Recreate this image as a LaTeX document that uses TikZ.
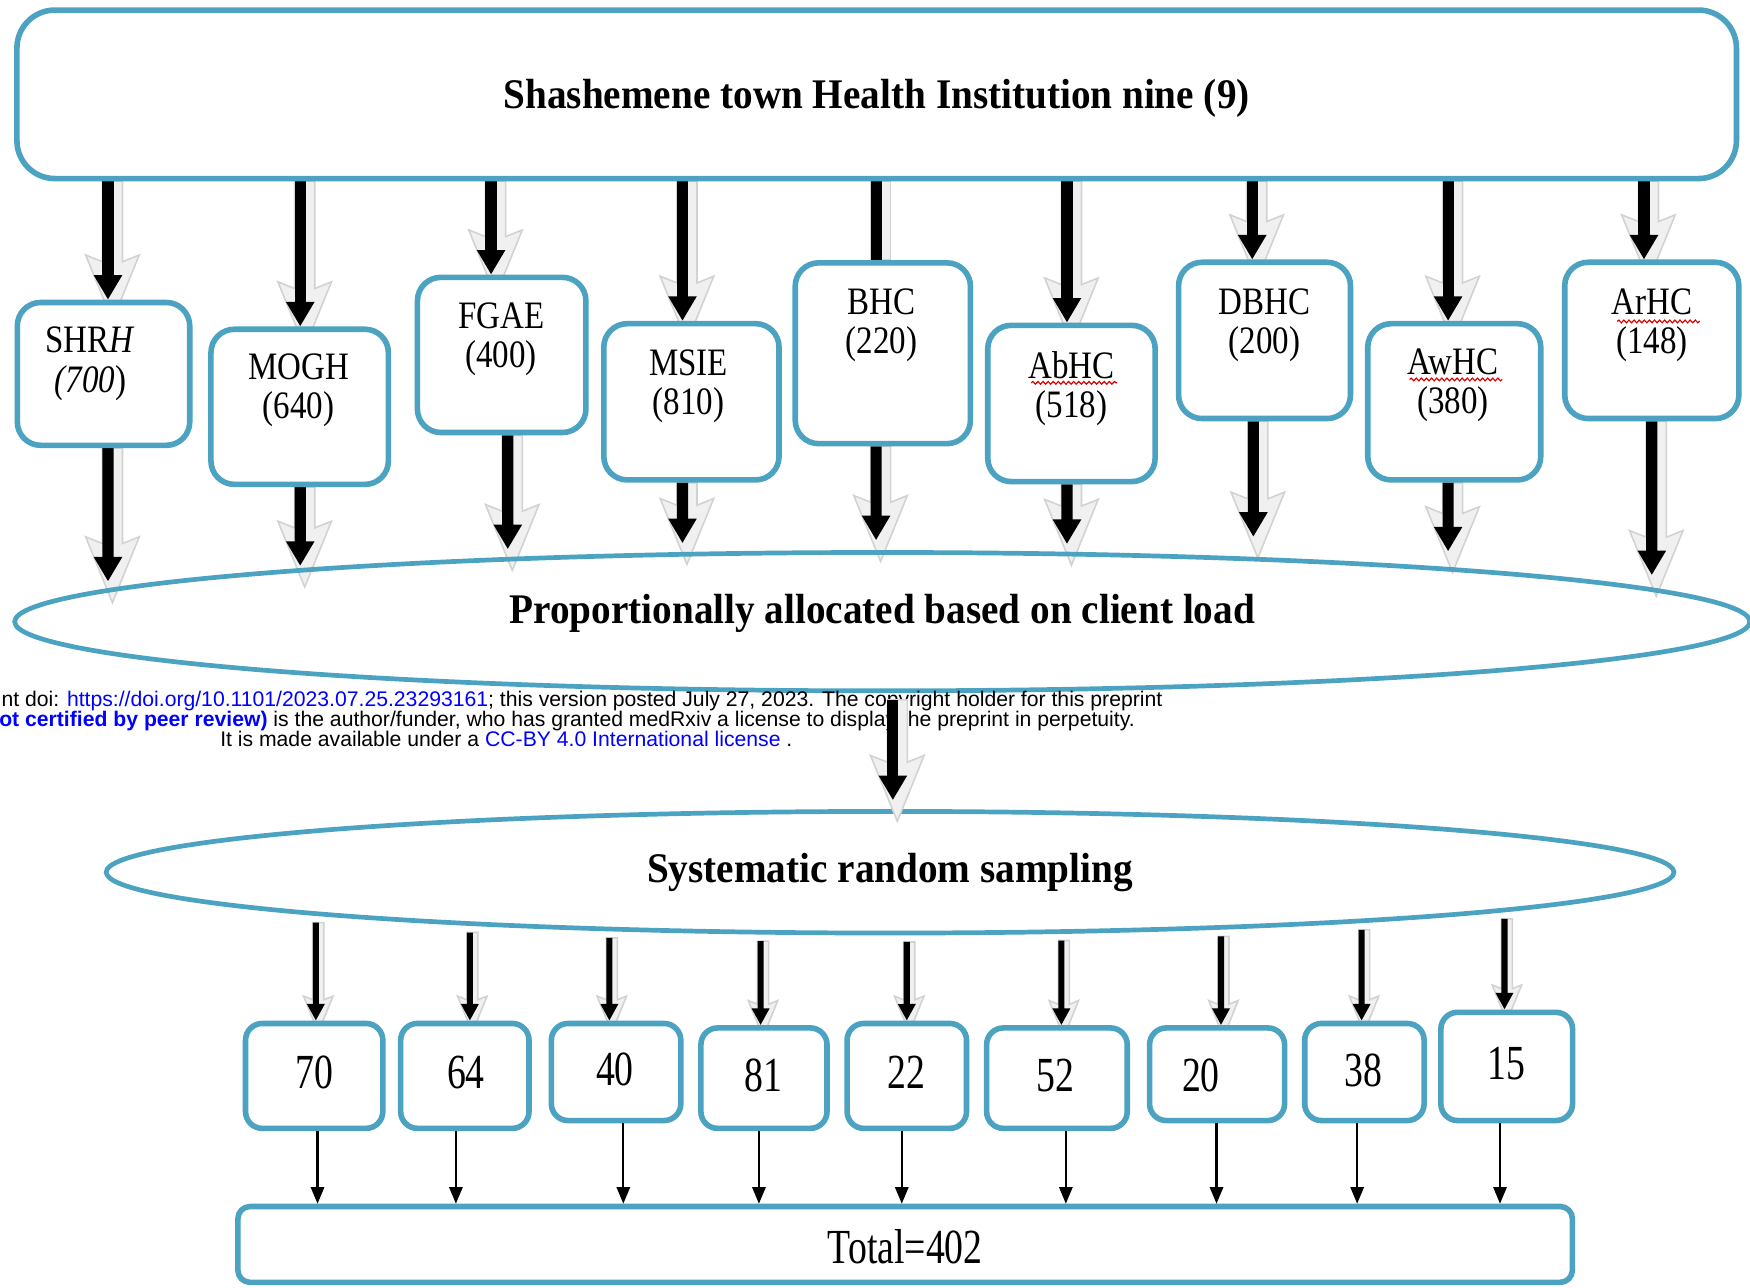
\documentclass[tikz,border=0pt]{standalone}
\usepackage{fontspec}
\setmainfont{Liberation Serif}
\newfontfamily\titlefont[FakeStretch=0.93]{Liberation Serif}
\newfontfamily\lblfont[FakeStretch=0.85]{Liberation Serif}
\newfontfamily\numfont[FakeStretch=0.77]{Liberation Serif}
\newfontfamily\wmfont{Liberation Sans}
\usetikzlibrary{shapes.geometric,arrows.meta,calc,intersections,decorations.pathmorphing}
\definecolor{teal1}{RGB}{75,163,193}
\definecolor{wmblue}{RGB}{0,0,255}
\pgfdeclarelayer{paper}
\pgfdeclarelayer{bg}
\pgfsetlayers{paper,bg,main}
\def\PX{0.56906pt}
% shadowed block arrow: #1 scale, #2 style, #3 start, #4 tip
\newcommand\sharrow[4]{%
  \path[shadowpoly] let \p1=#3, \p2=#4 in
    (\x1-5*#1*\PX,\y1) -- (\x1+13*#1*\PX,\y1) -- (\x1+13*#1*\PX,\y2+34*#1*\PX)
    -- (\x1+28*#1*\PX,\y2+40*#1*\PX) -- (\x1+4*#1*\PX,\y2-19*#1*\PX)
    -- (\x1-20*#1*\PX,\y2+40*#1*\PX) -- (\x1-5*#1*\PX,\y2+34*#1*\PX) -- cycle;
  \draw[#2] #3 -- #4;}
% shadowed line without head
\newcommand\shline[2]{%
  \path[shadowpoly] let \p1=#1, \p2=#2 in
    (\x1-5*\PX,\y1) -- (\x1+13*\PX,\y1) -- (\x1+13*\PX,\y2) -- (\x1-5*\PX,\y2) -- cycle;
  \draw[bigline] #1 -- #2;}
\newcommand\hcbox[8]{%
  \node[hbox, minimum width=#4*0.02cm, minimum height=#5*0.02cm] (#1) at (#2,#3) {};
  \node[lbl] (#1T) at (#6,#7) {#8};}
\newcommand\nbx[8]{%
  \node[nbox, minimum width=#4*0.02cm, minimum height=#5*0.02cm] (#1) at (#2,#3) {};
  \node[num] (#1T) at (#6,#7) {#8};}
\begin{document}
\begin{tikzpicture}[x=0.02cm, y=-0.02cm,
  topbox/.style={draw=teal1, line width=2.85pt, rounded corners=0.68cm, fill=white, inner sep=0pt},
  hbox/.style={draw=teal1, line width=2.85pt, rounded corners=0.42cm, fill=white, inner sep=0pt},
  nbox/.style={draw=teal1, line width=2.85pt, rounded corners=0.3cm, fill=white, inner sep=0pt},
  ell/.style={ellipse, draw=teal1, line width=2.4pt, inner sep=0pt},
  titletext/.style={font=\titlefont\bfseries\fontsize{21.5}{24}\selectfont},
  lbl/.style={font=\lblfont\fontsize{19.8}{20}\selectfont, align=center, inner sep=0pt},
  num/.style={font=\numfont\fontsize{25}{26}\selectfont, inner sep=0pt},
  wm/.style={font=\wmfont\fontsize{10.8}{12}\selectfont, inner sep=0pt, anchor=base west},
  shadowpoly/.style={fill=gray!12, draw=gray!35, line width=0.8pt},
  bigarrow/.style={line width=5.69pt, -{Triangle[width=13.66pt,length=12.52pt]}},
  bigline/.style={line width=5.69pt},
  smallarrow/.style={line width=3.13pt, -{Triangle[width=8.5pt,length=8.5pt]}},
  thinarrow/.style={line width=1.1pt, -{Triangle[width=6.8pt,length=8.5pt]}},
  squig/.style={draw=red!85!black, line width=0.6pt, decorate, decoration={snake, amplitude=0.7pt, segment length=2.6pt}},
]
\useasboundingbox (0,0) rectangle (1568,1154);
\begin{pgfonlayer}{paper}
  \fill[white] (0,0) rectangle (1568,1154);
\end{pgfonlayer}

% top box
\node[topbox, titletext, minimum width=30.82cm, minimum height=3.02cm, text height=15pt, text depth=1pt]
  (top) at (785.5,84.5) {Shashemene town Health Institution nine (9)};

% institution boxes
\hcbox{shrh}{92.75}{335}{154.5}{128}{81}{326}{SHR\textit{H}\\\textit{(700})}
\hcbox{mogh}{268.5}{364.5}{159}{139}{267.5}{350}{MOGH\\(640)}
\hcbox{fgae}{449.5}{318}{151}{139}{449}{304}{FGAE\\(400)}
\hcbox{msie}{619.5}{360}{157}{140}{617}{346}{MSIE\\(810)}
\hcbox{bhc}{791}{316.5}{157}{162}{790}{291.5}{BHC\\(220)}
\hcbox{abhc}{960}{361.5}{150}{140}{960}{348}{AbHC\\(518)}
\hcbox{dbhc}{1133}{305}{154}{140}{1133}{291.5}{DBHC\\(200)}
\hcbox{awhc}{1303}{360}{155}{140}{1302}{345}{AwHC\\(380)}
\hcbox{arhc}{1480}{305}{156}{140}{1480}{291.5}{ArHC\\(148)}

% ellipses
\node[ell, titletext, minimum width=31.1cm, minimum height=2.48cm, text height=15pt, text depth=13.4pt]
  (e1) at (790.5,557) {Proportionally allocated based on client load};
\path[name path=E1] (e1.center) ellipse [x radius=777.5, y radius=62];
\node[ell, titletext, minimum width=28.1cm, minimum height=2.18cm, text height=15pt, text depth=4.8pt]
  (e2) at (797.5,781.5) {Systematic random sampling};
\path[name path=E2] (e2.center) ellipse [x radius=702.5, y radius=54.5];

% sample boxes
\nbx{n70}{281.5}{964}{123}{94}{282}{961}{70}
\nbx{n64}{416.5}{964}{115}{94}{417.5}{961}{64}
\nbx{n40}{552}{960.5}{116}{87}{551}{958}{40}
\nbx{n81}{684.5}{966}{113}{90}{684}{964}{81}
\nbx{n22}{812.5}{964}{107}{94}{812}{961}{22}
\nbx{n52}{947}{966}{126}{90}{945.5}{964}{52}
\nbx{n20}{1090.5}{962.5}{121}{83}{1076}{964}{20}
\nbx{n38}{1222.5}{960.5}{107}{87}{1222}{959}{38}
\nbx{n15}{1350}{955.5}{118}{97}{1350}{953}{15}

\node[nbox, rounded corners=0.22cm, minimum width=23.92cm, minimum height=1.36cm] (total) at (811,1115) {};
\node[num] (totalT) at (811,1117) {Total=402};

% shadowed arrows
\begin{pgfonlayer}{bg}
\foreach \b/\dx in {shrh/4, mogh/0.5, fgae/-9.5, msie/-8, abhc/-4, dbhc/-11, awhc/-5.5, arhc/-7}{
  \sharrow{1}{bigarrow}{($(top.south -| \b.north)+(\dx,0)$)}{($(\b.north)+(\dx,0)$)}
}
\shline{($(top.south -| bhc.north)+(-6,0)$)}{($(bhc.north)+(-6,0)$)}
\foreach \b/\dx/\up in {shrh/4/8, mogh/0.5/4, fgae/5.5/9, msie/-8/10, bhc/-6/11, abhc/-4/9, dbhc/-10/20, awhc/-5.5/16, arhc/0/13}{
  \path[name path=vl] ($(\b.south)+(\dx,0)$) -- ++(0,165);
  \path[name intersections={of=vl and E1, by=ip}];
  \sharrow{1}{bigarrow}{($(\b.south)+(\dx,0)$)}{($(ip)+(0,-\up)$)}
}
\foreach \b/\dx in {n70/1.5, n64/4.5, n40/-6, n81/-3, n22/0, n52/4, n20/3.5, n38/-2.5, n15/-2}{
  \path[name path=vl2] ($(\b.north)+(\dx,0)$) -- ++(0,-120);
  \path[name intersections={of=vl2 and E2, by=iq}];
  \sharrow{0.55}{smallarrow}{($(iq)+(0,8)$)}{($(\b.north)+(\dx,0)$)}
}
\end{pgfonlayer}

% thin arrows into the total
\foreach \b/\dx in {n70/3, n64/-8, n40/6.5, n81/-4.5, n22/-4.5, n52/8, n20/-0.5, n38/-6.5, n15/-6}
  \draw[thinarrow] ($(\b.south)+(\dx,0)$) -- ($(\b.south |- total.north)+(\dx,0)$);

% preprint overlay text
\node[wm] (wm1) at (1,633) {nt doi: \textcolor{wmblue}{https://doi.org/10.1101/2023.07.25.23293161}; this version posted July 27, 2023. The copyright holder for this preprint};
\node[wm] (wm2) at (-1,651) {\textcolor{wmblue}{\bfseries ot certified by peer review)} is the author/funder, who has granted medRxiv a license to display the preprint in perpetuity.};
\node[wm] (wm3) at (197,669) {It is made available under a \textcolor{wmblue}{CC-BY 4.0 International license} .};

% middle arrow
\sharrow{1}{bigarrow}{($(e1.south)+(9.5,6)$)}{($(e2.north)+(2.5,-8)$)}

% spell-check squiggles
\draw[squig] (924,343) -- (1001,343);
\draw[squig] (1263,340) -- (1346,340);
\draw[squig] (1449,288) -- (1523,288);
\end{tikzpicture}
\end{document}
